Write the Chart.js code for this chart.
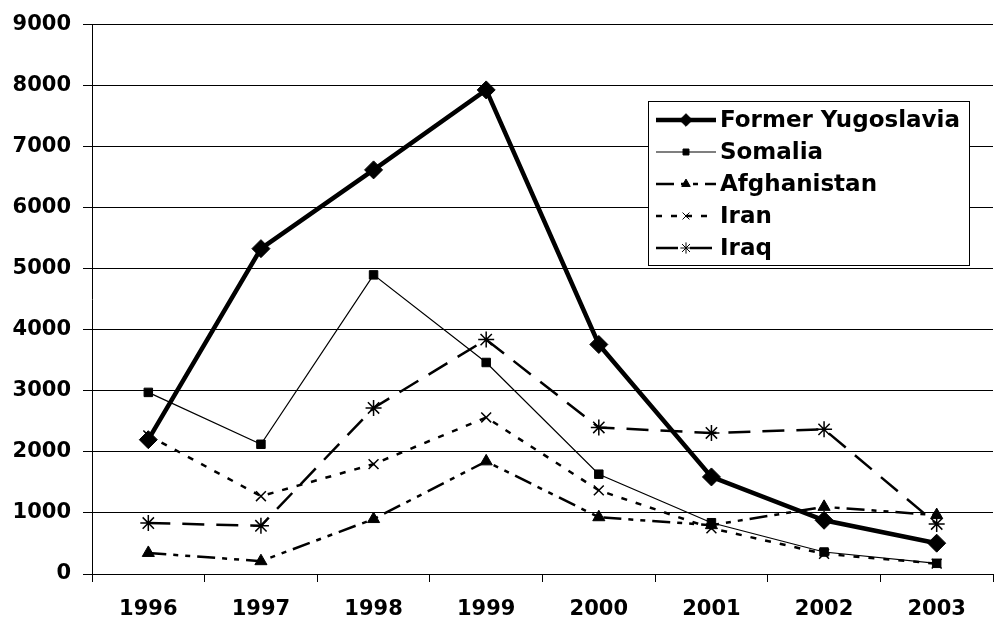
<!DOCTYPE html>
<html>
<head>
<meta charset="utf-8">
<script src="https://cdn.jsdelivr.net/npm/chart.js@4.4.1/dist/chart.umd.min.js"></script>
<style>
  html, body { margin: 0; padding: 0; background: #fff; overflow: hidden; }
  #wrap { width: 1003px; height: 624px; }
</style>
</head>
<body>
<div id="wrap"><canvas id="chart" width="1003" height="624"></canvas></div>
<script>
// years on the x axis
var years = ['1996', '1997', '1998', '1999', '2000', '2001', '2002', '2003'];

// values
var yugoslavia  = [2200, 5330, 6620, 7930, 3760, 1590, 880, 505];
var somalia     = [2975, 2125, 4900, 3465, 1635, 840, 360, 175];
var afghanistan = [345, 210, 900, 1845, 930, 800, 1100, 965];
var iran        = [2270, 1275, 1800, 2565, 1370, 750, 330, 170];
var iraq        = [835, 790, 2720, 3840, 2400, 2310, 2370, 820];

var seriesNames = ['Former Yugoslavia', 'Somalia', 'Afghanistan', 'Iran', 'Iraq'];

var FONT = '"DejaVu Sans", Verdana, sans-serif';

function drawMarker(ctx, style, r, x, y) {
  if (Chart.helpers && Chart.helpers.drawPoint) {
    Chart.helpers.drawPoint(ctx, { pointStyle: style, radius: r, rotation: 0, borderWidth: 1 }, x, y);
    return;
  }
  ctx.beginPath();
  ctx.arc(x, y, r, 0, Math.PI * 2);
  ctx.fill();
}

// legend box drawn inside the plot, like the original
var boxLegend = {
  id: 'boxLegend',
  afterDraw: function(chart) {
    var ctx = chart.ctx;
    var bx = 648, by = 101, bw = 321, bh = 164;
    ctx.save();
    ctx.fillStyle = '#fff';
    ctx.fillRect(bx, by, bw, bh);
    ctx.strokeStyle = '#000';
    ctx.lineWidth = 1;
    ctx.strokeRect(bx + 0.5, by + 0.5, bw, bh);

    chart.data.datasets.forEach(function(ds, i) {
      var y = 120 + i * 32;
      ctx.save();
      ctx.strokeStyle = '#000';
      ctx.lineWidth = ds.borderWidth;
      ctx.setLineDash(ds.borderDash || []);
      ctx.beginPath();
      ctx.moveTo(656, y);
      ctx.lineTo(716, y);
      ctx.stroke();
      ctx.setLineDash([]);
      ctx.fillStyle = '#000';
      ctx.strokeStyle = '#000';
      ctx.lineWidth = 1;
      drawMarker(ctx, ds.pointStyle, ds.pointRadius * 0.7, 686, y);
      ctx.restore();

      ctx.fillStyle = '#000';
      ctx.font = 'bold 23px ' + FONT;
      ctx.textBaseline = 'middle';
      ctx.textAlign = 'left';
      ctx.fillText(ds.label, 720, y + 1);
    });
    ctx.restore();
  }
};

var ctx = document.getElementById('chart').getContext('2d');
var lineChart = new Chart(ctx, {
  type: 'line',
  data: {
    labels: years,
    datasets: [
      {
        label: seriesNames[0],
        data: yugoslavia,
        borderColor: '#000',
        backgroundColor: '#000',
        borderWidth: 4.5,
        pointStyle: 'rectRot',
        pointRadius: 9,
        pointBorderWidth: 1
      },
      {
        label: seriesNames[1],
        data: somalia,
        borderColor: '#000',
        backgroundColor: '#000',
        borderWidth: 1.2,
        pointStyle: 'rect',
        pointRadius: 6,
        pointBorderWidth: 1
      },
      {
        label: seriesNames[2],
        data: afghanistan,
        borderColor: '#000',
        backgroundColor: '#000',
        borderWidth: 2.5,
        borderDash: [18, 7, 5, 7, 5, 7],
        pointStyle: 'triangle',
        pointRadius: 7,
        pointBorderWidth: 1
      },
      {
        label: seriesNames[3],
        data: iran,
        borderColor: '#000',
        backgroundColor: '#000',
        borderWidth: 2.5,
        borderDash: [6, 9],
        pointStyle: 'crossRot',
        pointRadius: 7,
        pointBorderWidth: 1.5
      },
      {
        label: seriesNames[4],
        data: iraq,
        borderColor: '#000',
        backgroundColor: '#000',
        borderWidth: 2.5,
        borderDash: [22, 12],
        pointStyle: 'star',
        pointRadius: 8,
        pointBorderWidth: 1.5
      }
    ]
  },
  options: {
    responsive: false,
    animation: false,
    layout: { padding: { top: 12, right: 1, left: 0, bottom: 0 } },
    plugins: {
      legend: { display: false },
      tooltip: { enabled: false }
    },
    elements: { line: { tension: 0 } },
    scales: {
      x: {
        offset: true,
        grid: {
          offset: true,
          drawOnChartArea: false,
          drawTicks: true,
          tickLength: 8,
          color: '#000'
        },
        border: { color: '#000', width: 1 },
        ticks: {
          color: '#000',
          font: { family: FONT, size: 21, weight: 'bold' },
          padding: 15,
          maxRotation: 0
        },
        afterFit: function(axis) { axis.height = 50; }
      },
      y: {
        min: 0,
        max: 9000,
        ticks: {
          stepSize: 1000,
          color: '#000',
          font: { family: FONT, size: 21, weight: 'bold' },
          padding: 12,
          callback: function(v) { return String(v); }
        },
        grid: {
          color: '#000',
          drawTicks: true,
          tickLength: 9
        },
        border: { color: '#000', width: 1 },
        afterFit: function(axis) { axis.width = 92; }
      }
    }
  },
  plugins: [boxLegend]
});
</script>
</body>
</html>
